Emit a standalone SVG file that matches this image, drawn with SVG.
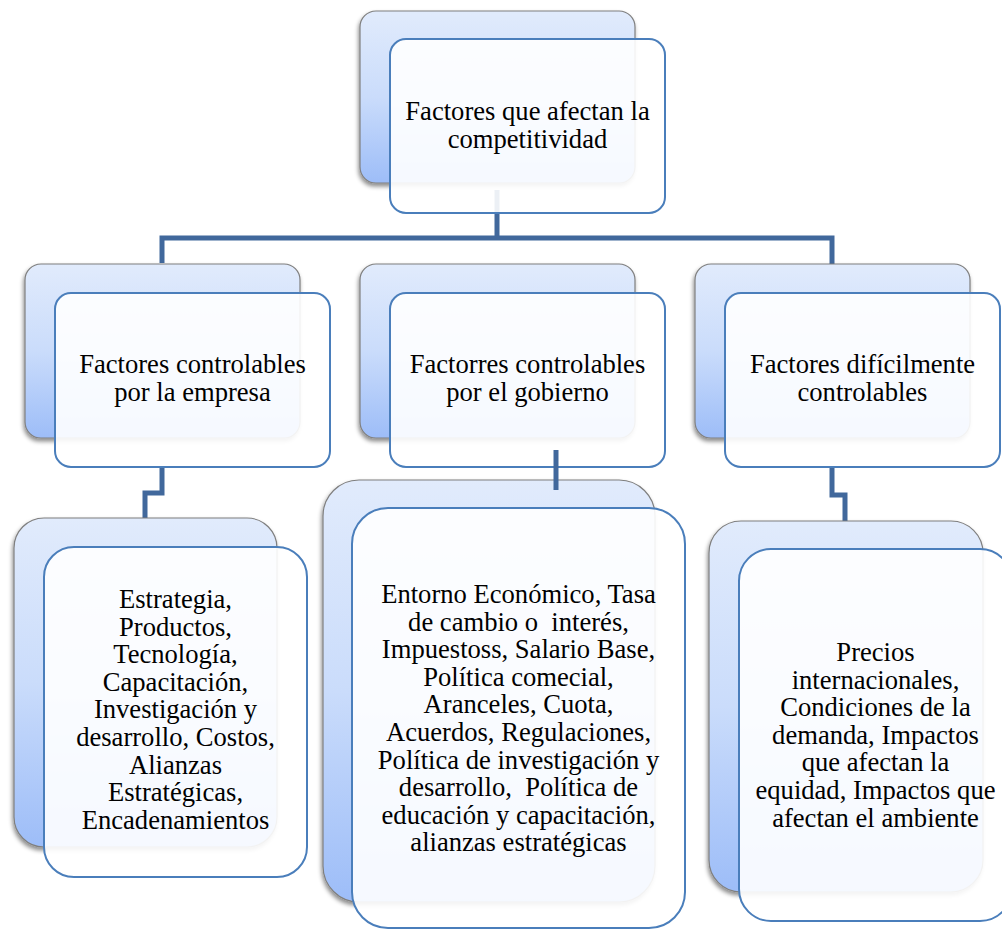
<svg xmlns="http://www.w3.org/2000/svg" width="1002" height="929" viewBox="0 0 1002 929">
<defs>
<linearGradient id="backGrad" x1="0" y1="0" x2="0" y2="1">
<stop offset="0" stop-color="#e1ebfc"/>
<stop offset="0.5" stop-color="#cadcfb"/>
<stop offset="1" stop-color="#9dbdf8"/>
</linearGradient>
<filter id="shadow" x="-10%" y="-10%" width="120%" height="120%">
<feDropShadow dx="-1" dy="3" stdDeviation="2" flood-color="#000" flood-opacity="0.45"/>
</filter>
</defs>
<style>
.back{fill:url(#backGrad);stroke:#7f7f7f;stroke-width:1.2;filter:url(#shadow);}
.front{fill:#ffffff;fill-opacity:0.9;stroke:#4a7ebb;stroke-width:2;}
.conn{fill:none;stroke:#41689c;stroke-width:5;stroke-linejoin:miter;}
.t{font-family:'Liberation Serif','DejaVu Serif',serif;font-size:26.6px;fill:#000;text-anchor:middle;white-space:pre;}
</style>
<rect width="1002" height="929" fill="#ffffff"/>
<g id="connectors">
<path class="conn" d="M497,190 V238 M162,263 V238 H832 V265"/>
<path class="conn" d="M162,467 V493 H145 V518"/>
<path class="conn" d="M832,467 V495 H845 V521"/>
</g>
<g id="node-top">
<rect class="back" x="360" y="11" width="275" height="172" rx="16"/>
<rect class="front" x="390" y="39" width="275" height="174" rx="16"/>
<text class="t" font-family="Liberation Serif, DejaVu Serif, serif" x="527.5" y="120">Factores que afectan la</text>
<text class="t" font-family="Liberation Serif, DejaVu Serif, serif" x="527.5" y="147.5">competitividad</text>
</g>
<g id="node-empresa">
<rect class="back" x="25" y="264" width="275" height="174" rx="16"/>
<rect class="front" x="55" y="293" width="275" height="174" rx="16"/>
<text class="t" font-family="Liberation Serif, DejaVu Serif, serif" x="192.5" y="373">Factores controlables</text>
<text class="t" font-family="Liberation Serif, DejaVu Serif, serif" x="192.5" y="401">por la empresa</text>
</g>
<g id="node-gobierno">
<rect class="back" x="360" y="264" width="275" height="174" rx="16"/>
<rect class="front" x="390" y="293" width="275" height="174" rx="16"/>
<text class="t" font-family="Liberation Serif, DejaVu Serif, serif" x="527.5" y="373">Factorres controlables</text>
<text class="t" font-family="Liberation Serif, DejaVu Serif, serif" x="527.5" y="401">por el gobierno</text>
</g>
<g id="node-dificil">
<rect class="back" x="695" y="264" width="275" height="174" rx="16"/>
<rect class="front" x="725" y="293" width="275" height="174" rx="16"/>
<text class="t" font-family="Liberation Serif, DejaVu Serif, serif" x="862.5" y="373">Factores difícilmente</text>
<text class="t" font-family="Liberation Serif, DejaVu Serif, serif" x="862.5" y="401">controlables</text>
</g>
<g id="node-empresa-detail" font-family="Liberation Serif, DejaVu Serif, serif">
<rect class="back" x="14" y="518" width="263" height="329" rx="30"/>
<rect class="front" x="44" y="547" width="263" height="330" rx="30"/>
<text class="t" x="175.5" y="608">Estrategia,</text>
<text class="t" x="175.5" y="635.6">Productos,</text>
<text class="t" x="175.5" y="663.2">Tecnología,</text>
<text class="t" x="175.5" y="690.8">Capacitación,</text>
<text class="t" x="175.5" y="718.4">Investigación y</text>
<text class="t" x="175.5" y="746">desarrollo, Costos,</text>
<text class="t" x="175.5" y="773.6">Alianzas</text>
<text class="t" x="175.5" y="801.2">Estratégicas,</text>
<text class="t" x="175.5" y="828.8">Encadenamientos</text>
</g>
<g id="node-gobierno-detail" font-family="Liberation Serif, DejaVu Serif, serif">
<rect class="back" x="323" y="480" width="332" height="422" rx="36"/>
<rect class="front" x="352" y="508" width="333" height="420" rx="36"/>
<text class="t" x="518.5" y="603">Entorno Económico, Tasa</text>
<text class="t" x="518.5" y="630.6">de cambio o  interés,</text>
<text class="t" x="518.5" y="658.2">Impuestoss, Salario Base,</text>
<text class="t" x="518.5" y="685.8">Política comecial,</text>
<text class="t" x="518.5" y="713.4">Aranceles, Cuota,</text>
<text class="t" x="518.5" y="741">Acuerdos, Regulaciones,</text>
<text class="t" x="518.5" y="768.6">Política de investigación y</text>
<text class="t" x="518.5" y="796.2">desarrollo,  Política de</text>
<text class="t" x="518.5" y="823.8">educación y capacitación,</text>
<text class="t" x="518.5" y="851.4">alianzas estratégicas</text>
</g>
<g id="node-dificil-detail" font-family="Liberation Serif, DejaVu Serif, serif">
<rect class="back" x="709" y="521" width="274" height="371" rx="32"/>
<rect class="front" x="739" y="549" width="273" height="372" rx="32"/>
<text class="t" x="875.5" y="661">Precios</text>
<text class="t" x="875.5" y="688.6">internacionales,</text>
<text class="t" x="875.5" y="716.2">Condiciones de la</text>
<text class="t" x="875.5" y="743.8">demanda, Impactos</text>
<text class="t" x="875.5" y="771.4">que afectan la</text>
<text class="t" x="875.5" y="799">equidad, Impactos que</text>
<text class="t" x="875.5" y="826.6">afectan el ambiente</text>
</g>
<g id="connector-stub">
<path class="conn" d="M556,450 V490"/>
</g>
</svg>
